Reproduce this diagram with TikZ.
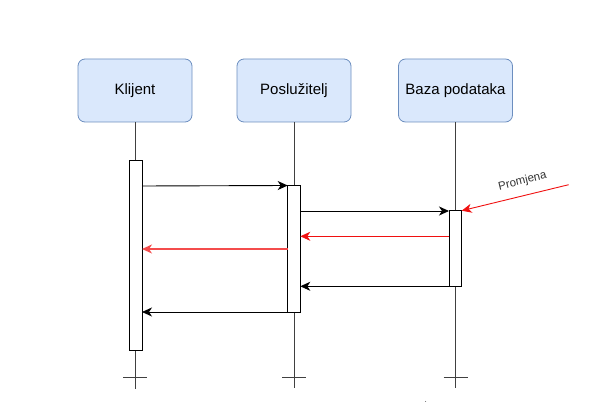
\documentclass[tikz,border=0pt]{standalone}
\usepackage{fontspec}
\setmainfont{Liberation Sans}
\usetikzlibrary{arrows.meta}
\definecolor{boxfill}{HTML}{DAE8FC}
\definecolor{boxline}{HTML}{6C8EBF}
\definecolor{msgred}{HTML}{F01010}
\begin{document}
\begin{tikzpicture}[x=1pt,y=-1pt,
  actor/.style={draw=boxline,fill=boxfill,rounded corners=7pt,minimum width=114pt,minimum height=63pt,inner sep=0pt,font=\fontsize{15}{18}\selectfont,line width=0.8pt},
  life/.style={draw=black!75,line width=0.8pt},
  actbox/.style={draw=black,fill=white,line width=0.8pt},
  msg/.style={draw=black,line width=0.9pt,-{Stealth[length=10pt,width=9pt,inset=3pt]}},
  redmsg/.style={draw=msgred,line width=0.9pt,-{Stealth[length=10pt,width=9pt,inset=3pt]}}]
\useasboundingbox (0,0) rectangle (614,406);
% actors
\node[actor] (klijent) at (135,90.5) {Klijent};
\node[actor] (posluzitelj) at (294,90.5) {Poslužitelj};
\node[actor] (baza) at (455.5,90.5) {Baza podataka};
% lifeline ends
\coordinate (kend) at (135,389);
\coordinate (pend) at (294,388);
\coordinate (bend) at (455.5,388);
\draw[life] (klijent.south) -- (kend);
\draw[life] (posluzitelj.south) -- (pend);
\draw[life] (baza.south) -- (bend);
\draw[life] (123,377) -- (147,377);
\draw[life] (282,377) -- (306,377);
\draw[life] (443.5,377) -- (467.5,377);
% activation boxes
\draw[actbox] (129,160.5) rectangle (142,350);
\draw[actbox] (287.7,185.3) rectangle (300.3,312.3);
\draw[actbox] (449,210.5) rectangle (461.7,286);
% named points on activations
\coordinate (k1) at (142,186);
\coordinate (p1) at (287.7,185.5);
\coordinate (p2) at (300.3,211);
\coordinate (b2) at (449,211);
\coordinate (src) at (568.7,184.7);
\coordinate (b3) at (461.7,210.7);
\coordinate (b4) at (449,236.3);
\coordinate (p4) at (300.3,236.3);
\coordinate (p5) at (287.7,249);
\coordinate (k5) at (142,249);
\coordinate (b6) at (449,286.3);
\coordinate (p6) at (300.3,286.3);
\coordinate (p7) at (287.7,312);
\coordinate (k7) at (142,312);
% messages
\draw[msg] (k1) -- (p1);
\draw[msg] (p2) -- (b2);
\draw[redmsg] (src) -- node[pos=0.4,above=5pt,sloped,text=black!80,font=\fontsize{11.5}{13}\selectfont] {Promjena} (b3);
\draw[redmsg] (b4) -- (p4);
\draw[redmsg,draw=msgred!75,line width=1.6pt] (p5) -- (k5);
\draw[msg] (b6) -- (p6);
\draw[msg] (p7) -- (k7);
% speck
\fill[black!60] (425.7,401.5) circle (0.5pt);
\end{tikzpicture}
\end{document}
